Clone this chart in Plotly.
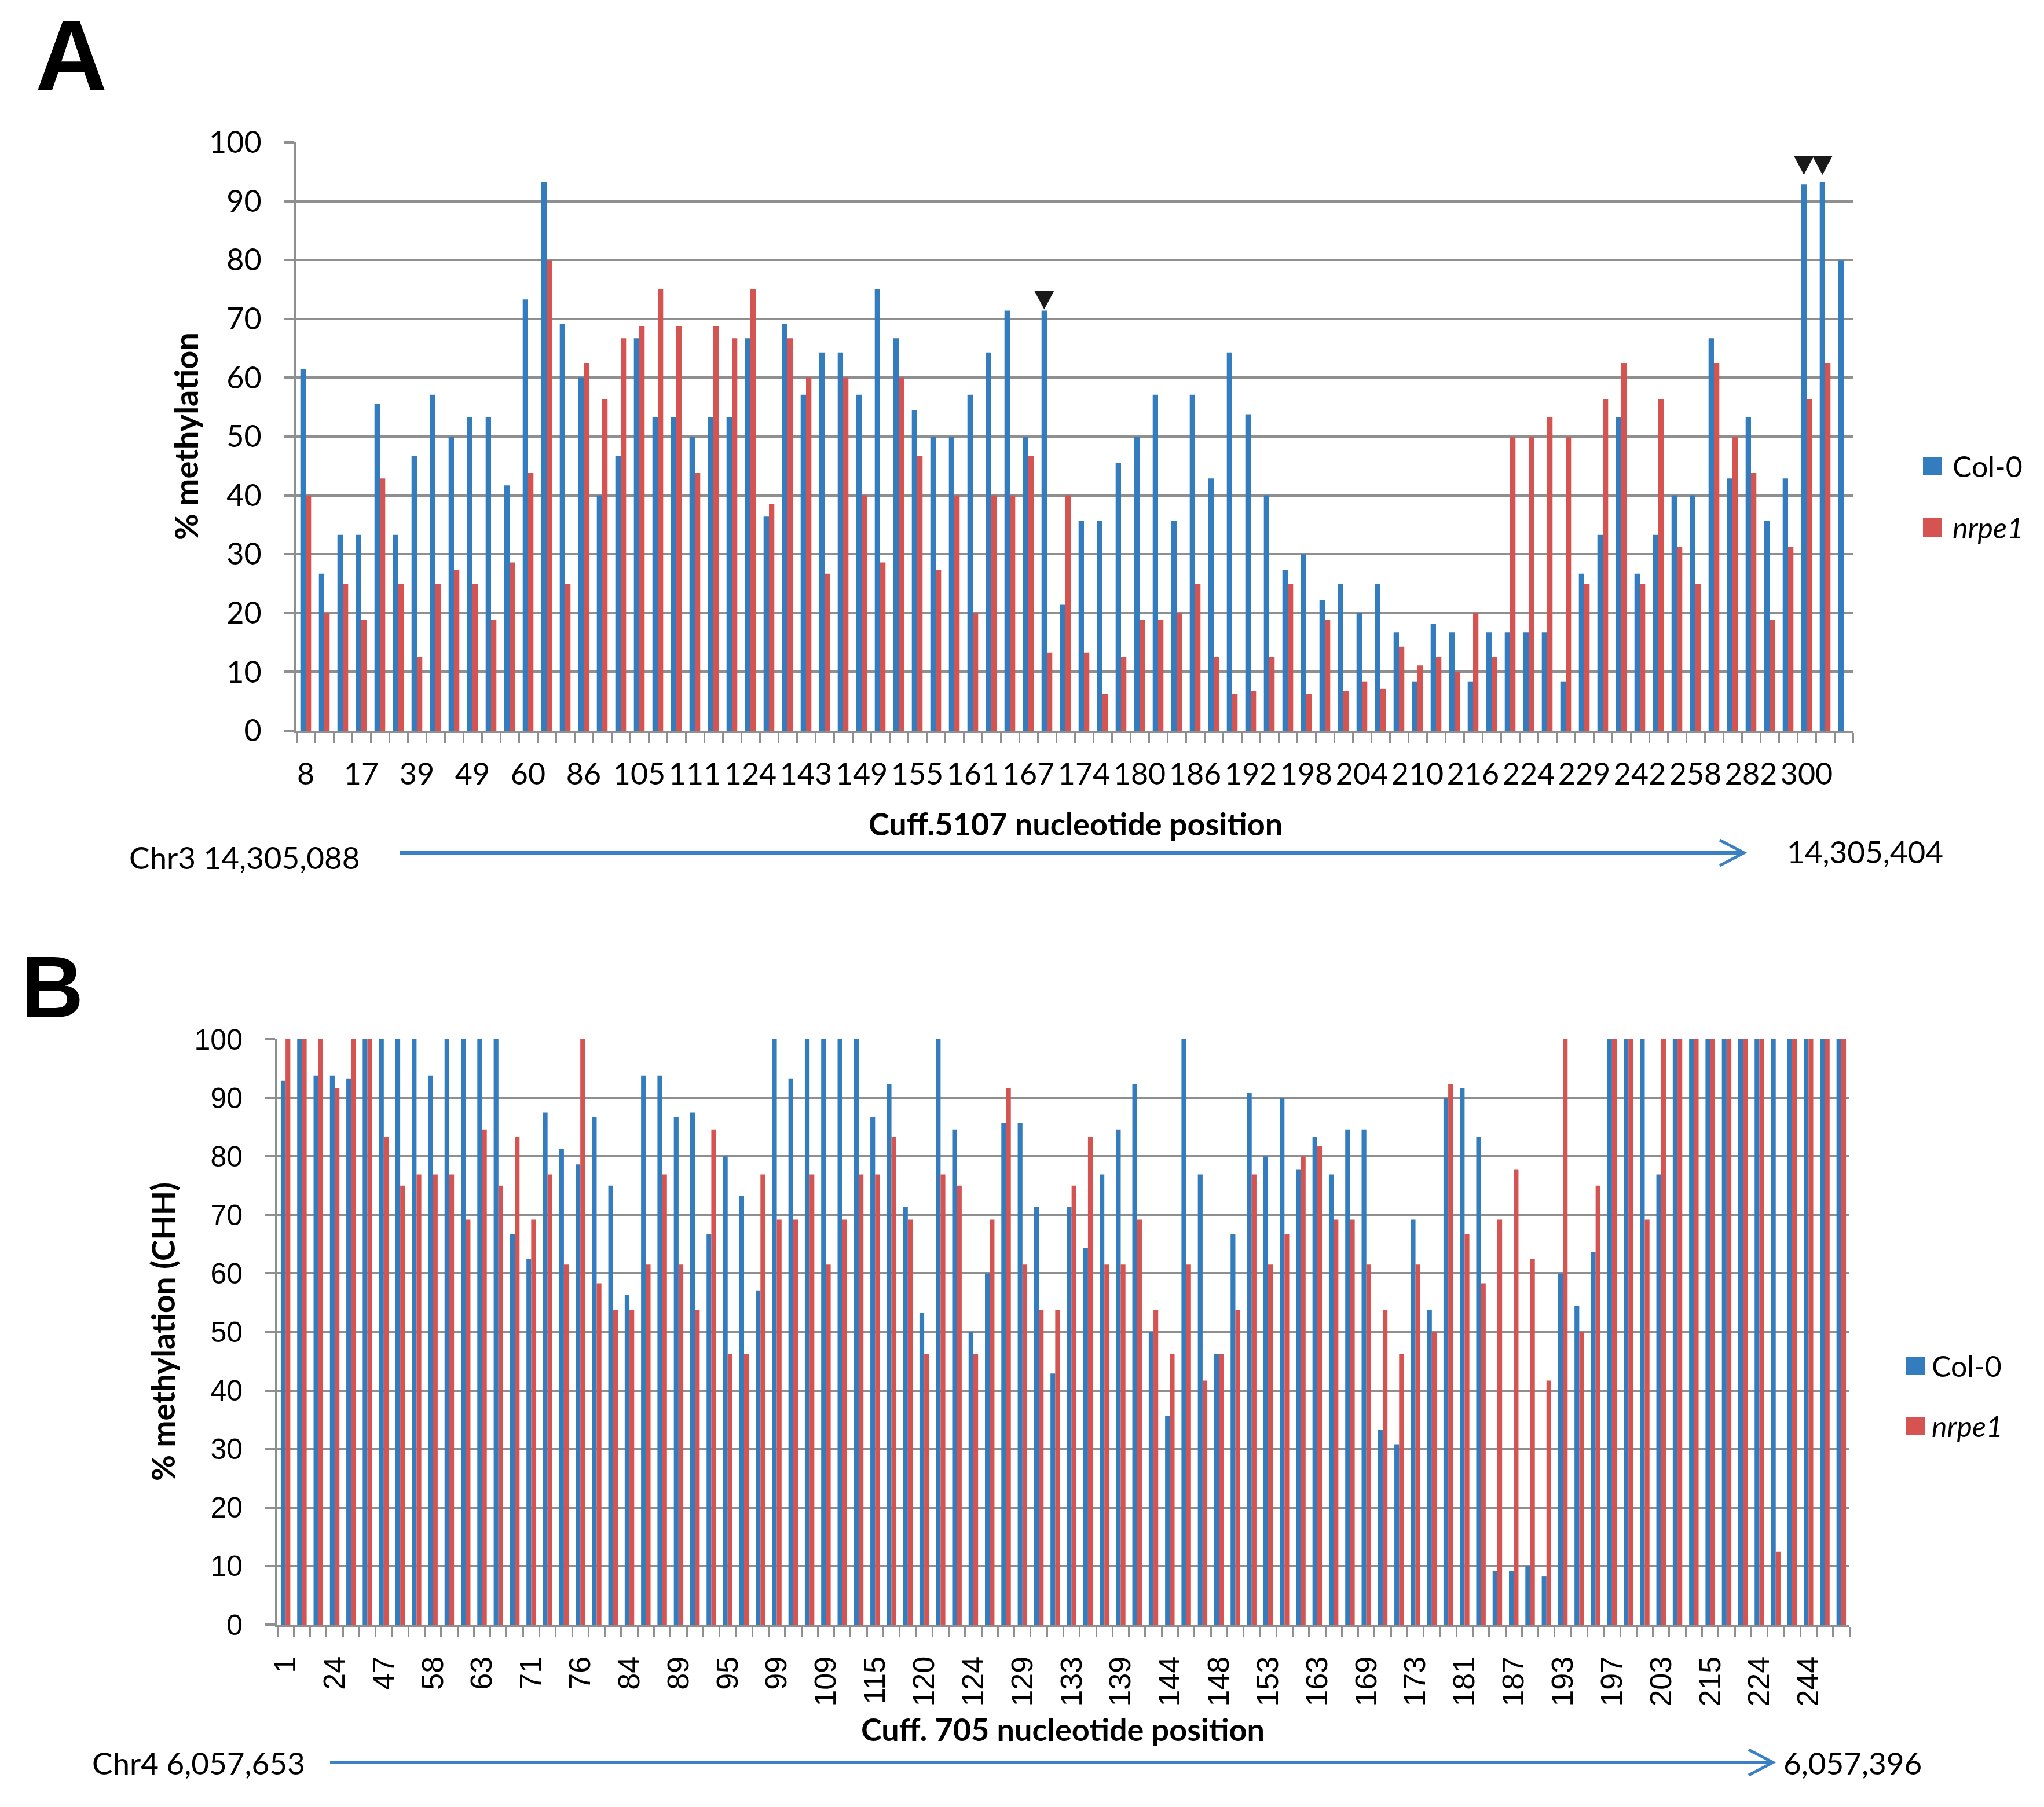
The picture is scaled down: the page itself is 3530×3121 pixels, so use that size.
import plotly.graph_objects as go

# ---- panel A: Cuff.5107 (every third position is labelled on the axis)
labels_a = ['8', '17', '39', '49', '60', '86', '105', '111', '124', '143', '149', '155', '161', '167',
            '174', '180', '186', '192', '198', '204', '210', '216', '224', '229', '242', '258', '282', '300']
col0_a = [61.5, 26.7, 33.3, 33.3, 55.6, 33.3, 46.7, 57.1, 50.0, 53.3, 53.3, 41.7, 73.3, 93.3,
          69.2, 60.0, 40.0, 46.7, 66.7, 53.3, 53.3, 50.0, 53.3, 53.3, 66.7, 36.4, 69.2, 57.1,
          64.3, 64.3, 57.1, 75.0, 66.7, 54.5, 50.0, 50.0, 57.1, 64.3, 71.4, 50.0, 71.4, 21.4,
          35.7, 35.7, 45.5, 50.0, 57.1, 35.7, 57.1, 42.9, 64.3, 53.8, 40.0, 27.3, 30.0, 22.2,
          25.0, 20.0, 25.0, 16.7, 8.3, 18.2, 16.7, 8.3, 16.7, 16.7, 16.7, 16.7, 8.3, 26.7,
          33.3, 53.3, 26.7, 33.3, 40.0, 40.0, 66.7, 42.9, 53.3, 35.7, 42.9, 92.9, 93.3, 80.0]
nrpe1_a = [40.0, 20.0, 25.0, 18.8, 42.9, 25.0, 12.5, 25.0, 27.3, 25.0, 18.8, 28.6, 43.8, 80.0,
           25.0, 62.5, 56.3, 66.7, 68.8, 75.0, 68.8, 43.8, 68.8, 66.7, 75.0, 38.5, 66.7, 60.0,
           26.7, 60.0, 40.0, 28.6, 60.0, 46.7, 27.3, 40.0, 20.0, 40.0, 40.0, 46.7, 13.3, 40.0,
           13.3, 6.3, 12.5, 18.8, 18.8, 20.0, 25.0, 12.5, 6.3, 6.7, 12.5, 25.0, 6.3, 18.8,
           6.7, 8.3, 7.1, 14.3, 11.1, 12.5, 10.0, 20.0, 12.5, 50.0, 50.0, 53.3, 50.0, 25.0,
           56.3, 62.5, 25.0, 56.3, 31.3, 25.0, 62.5, 50.0, 43.8, 18.8, 31.3, 56.3, 62.5, 0.0]
# positions flagged with a black triangle (1-based) and where the triangle tip sits
flag_pos = [41, 82, 83]
flag_y = [71.6, 94.5, 94.5]

# ---- panel B: Cuff. 705
labels_b = ['1', '24', '47', '58', '63', '71', '76', '84', '89', '95', '99', '109', '115', '120', '124', '129',
            '133', '139', '144', '148', '153', '163', '169', '173', '181', '187', '193', '197', '203', '215',
            '224', '244']
col0_b = [92.9, 100, 93.8, 93.8, 93.3, 100, 100, 100, 100, 93.8, 100, 100, 100, 100, 66.7, 62.5,
          87.5, 81.3, 78.6, 86.7, 75.0, 56.3, 93.8, 93.8, 86.7, 87.5, 66.7, 80.0, 73.3, 57.1, 100, 93.3,
          100, 100, 100, 100, 86.7, 92.3, 71.4, 53.3, 100, 84.6, 50.0, 60.0, 85.7, 85.7, 71.4, 42.9,
          71.4, 64.3, 76.9, 84.6, 92.3, 50.0, 35.7, 100, 76.9, 46.2, 66.7, 90.9, 80.0, 90.0, 77.8, 83.3,
          76.9, 84.6, 84.6, 33.3, 30.8, 69.2, 53.8, 90.0, 91.7, 83.3, 9.1, 9.1, 10.0, 8.3, 60.0, 54.5,
          63.6, 100, 100, 100, 76.9, 100, 100, 100, 100, 100, 100, 100, 100, 100, 100, 100]
nrpe1_b = [100, 100, 100, 91.7, 100, 100, 83.3, 75.0, 76.9, 76.9, 76.9, 69.2, 84.6, 75.0, 83.3, 69.2,
           76.9, 61.5, 100, 58.3, 53.8, 53.8, 61.5, 76.9, 61.5, 53.8, 84.6, 46.2, 46.2, 76.9, 69.2, 69.2,
           76.9, 61.5, 69.2, 76.9, 76.9, 83.3, 69.2, 46.2, 76.9, 75.0, 46.2, 69.2, 91.7, 61.5, 53.8, 53.8,
           75.0, 83.3, 61.5, 61.5, 69.2, 53.8, 46.2, 61.5, 41.7, 46.2, 53.8, 76.9, 61.5, 66.7, 80.0, 81.8,
           69.2, 69.2, 61.5, 53.8, 46.2, 61.5, 50.0, 92.3, 66.7, 58.3, 69.2, 77.8, 62.5, 41.7, 100, 50.0,
           75.0, 100, 100, 69.2, 100, 100, 100, 100, 100, 100, 100, 12.5, 100, 100, 100, 100]

W, H = 3530, 3121
BLUE = '#337CBD'
RED = '#D55351'
GRID = '#8F8F8F'
CAL = 'Lato, "Open Sans", sans-serif'
ARIAL = '"Liberation Sans", Arial, sans-serif'
BARGAP = 0.42


def px(x):
    return x / W


def py(y):
    return 1 - y / H


pos_a = list(range(1, len(col0_a) + 1))
pos_b = list(range(1, len(col0_b) + 1))

fig = go.Figure()
fig.add_trace(go.Bar(x=pos_a, y=col0_a, name='Col-0', marker=dict(color=BLUE, line_width=0),
                     xaxis='x', yaxis='y'))
fig.add_trace(go.Bar(x=pos_a, y=nrpe1_a, name='nrpe1', marker=dict(color=RED, line_width=0),
                     xaxis='x', yaxis='y'))
fig.add_trace(go.Bar(x=pos_b, y=col0_b, name='Col-0', marker=dict(color=BLUE, line_width=0),
                     xaxis='x2', yaxis='y2'))
fig.add_trace(go.Bar(x=pos_b, y=nrpe1_b, name='nrpe1', marker=dict(color=RED, line_width=0),
                     xaxis='x2', yaxis='y2'))

# triangles over the Col-0 bar (left half of each group), tip anchored on the data point
off = -(1 - BARGAP) / 4
for p, v in zip(flag_pos, flag_y):
    fig.add_shape(type='path', xref='x', yref='y', xsizemode='pixel', ysizemode='pixel',
                  xanchor=p + off, yanchor=v, path='M -17 32 L 17 32 L 0 0 Z',
                  fillcolor='#1a1a1a', line_width=0)

yax = dict(range=[0, 100], dtick=10, tick0=0, showgrid=True, gridcolor=GRID, gridwidth=4,
           showline=True, linecolor=GRID, linewidth=4, zeroline=False, automargin=False,
           ticks='outside', ticklen=18, tickwidth=4, tickcolor=GRID, ticklabelstandoff=28)
xax = dict(showgrid=False, showline=True, linecolor=GRID, linewidth=4, zeroline=False,
           tickmode='array', ticks='', automargin=False,
           minor=dict(tickmode='linear', tick0=0.5, dtick=1, ticks='outside', ticklen=17,
                      tickwidth=3, tickcolor=GRID, showgrid=False))

fig.update_layout(
    width=W, height=H, plot_bgcolor='white', paper_bgcolor='white',
    margin=dict(l=0, r=0, t=0, b=0, pad=0), showlegend=False,
    barmode='group', bargap=BARGAP, bargroupgap=0,
    xaxis=dict(xax, domain=[px(512), px(3200)], anchor='y', range=[0.5, len(pos_a) + 0.5],
               tickvals=pos_a[::3], ticktext=labels_a, ticklabelstandoff=27,
               tickfont=dict(family=CAL, size=52, color='black')),
    yaxis=dict(yax, domain=[py(1262), py(246)], anchor='x',
               tickfont=dict(family=CAL, size=52, color='black')),
    xaxis2=dict(xax, domain=[px(479), px(3194)], anchor='y2', range=[0.5, len(pos_b) + 0.5],
                tickvals=pos_b[::3], ticktext=labels_b, tickangle=-90, ticklabelstandoff=30,
                tickfont=dict(family=ARIAL, size=52, color='black')),
    yaxis2=dict(yax, domain=[py(2806), py(1795)], anchor='x2',
                tickfont=dict(family=ARIAL, size=50, color='black')),
)


def note(text, x, y, size, family=CAL, xanchor='center', angle=0):
    fig.add_annotation(text=text, x=px(x), y=py(y), xref='paper', yref='paper', showarrow=False,
                       xanchor=xanchor, yanchor='middle', textangle=angle,
                       font=dict(family=family, size=size, color='black'))


note('<b>A</b>', 123, 95, 172, family=ARIAL)
note('<b>B</b>', 90, 1705, 150, family=ARIAL)
note('<b>% methylation</b>', 320, 754, 56, angle=-90)
note('<b>% methylation (CHH)</b>', 281, 2300, 55, angle=-90)
note('<b>Cuff.5107 nucleotide position</b>', 1857, 1422, 54)
note('<b>Cuff. 705 nucleotide position</b>', 1835, 2986, 54)
note('Chr3 14,305,088', 624, 1480, 53, xanchor='right')
note('14,305,404', 3084, 1470, 53, xanchor='left')
note('Chr4 6,057,653', 529, 3044, 53, xanchor='right')
note('6,057,396', 3078, 3044, 53, xanchor='left')

# genomic direction arrows
for x0, x1, y in [(690, 3012, 1473), (570, 3062, 3044)]:
    fig.add_shape(type='line', xref='paper', yref='paper', x0=px(x0), x1=px(x1), y0=py(y), y1=py(y),
                  line=dict(color='#3B80C2', width=6))
    path = 'M {} {} L {} {} L {} {}'.format(px(x1 - 42), py(y - 22), px(x1), py(y), px(x1 - 42), py(y + 22))
    fig.add_shape(type='path', xref='paper', yref='paper', path=path, line=dict(color='#3B80C2', width=5))

# legends
for sx, tx, ys in [(3321, 3370, (805, 911)), (3291, 3334, (2359, 2463))]:
    for y, color, label in [(ys[0], BLUE, 'Col-0'), (ys[1], RED, '<i>nrpe1</i>')]:
        fig.add_shape(type='rect', xref='paper', yref='paper', x0=px(sx), x1=px(sx + 33),
                      y0=py(y + 16), y1=py(y - 16), fillcolor=color, line_width=0)
        note(label, tx, y, 50, xanchor='left')

fig.write_html('out.html', config={'displayModeBar': False},
               post_script="document.body.style.margin='0';")
